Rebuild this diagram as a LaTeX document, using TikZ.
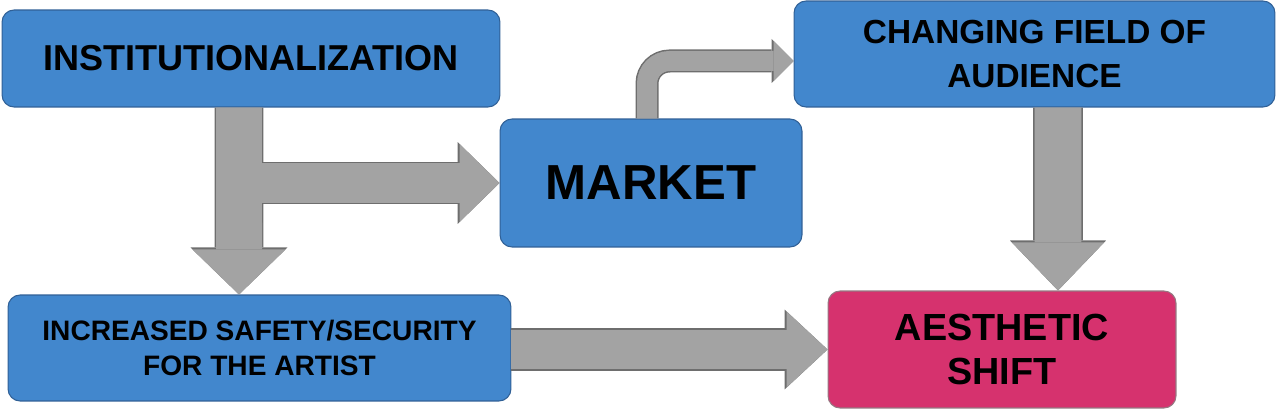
\documentclass[tikz,border=0pt]{standalone}
\usepackage{fontspec}
\setmainfont{Liberation Sans}
\usepackage{tikz}
\usetikzlibrary{arrows.meta, positioning, calc}

\definecolor{boxblue}{RGB}{66,135,205}
\definecolor{boxedge}{RGB}{48,96,150}
\definecolor{boxpink}{RGB}{214,50,110}
\definecolor{pinkedge}{RGB}{150,120,130}
\definecolor{arrowfill}{RGB}{163,163,163}
\definecolor{arrowedge}{RGB}{110,110,110}

\begin{document}
\begin{tikzpicture}[
    x=0.02cm, y=-0.02cm,
    box/.style={rectangle, draw=boxedge, line width=0.6pt, fill=boxblue, rounded corners=0.24cm, align=center, inner sep=0pt},
    arrowbody/.style={draw=arrowfill, line cap=butt},
    arrowrim/.style={draw=arrowedge, line cap=butt}
]
    \useasboundingbox (0,0) rectangle (1276,415);

    % boxes
    \node[box, minimum width=9.96cm, minimum height=1.94cm, font=\fontsize{20.5}{24}\bfseries\selectfont] (inst) at (251,58.5) {INSTITUTIONALIZATION};
    \node[box, minimum width=6.04cm, minimum height=2.56cm, font=\fontsize{28}{32}\bfseries\selectfont] (market) at (651,183) {MARKET};
    \node[box, minimum width=9.62cm, minimum height=2.12cm, font=\fontsize{19}{25.6}\bfseries\selectfont] (change) at (1034.5,54) {CHANGING FIELD OF\\AUDIENCE\hspace*{0pt}};
    \node[box, minimum width=10.06cm, minimum height=2.12cm, font=\fontsize{16}{19.9}\bfseries\selectfont] (incr) at (259.5,348) {INCREASED SAFETY/SECURITY\\FOR THE ARTIST};
    \node[box, draw=pinkedge, fill=boxpink, minimum width=6.96cm, minimum height=2.34cm, font=\fontsize{21.5}{25.6}\bfseries\selectfont] (aes) at (1002,349.5) {AESTHETIC\\SHIFT};

    \coordinate (branch) at (262,183);

    % block arrows
    \draw[arrowbody, line width=0.92cm, -{Triangle[length=0.9cm, width=1.86cm, line width=0pt]},
        preaction={arrowrim, line width=0.98cm, -{Triangle[length=0.94cm, width=1.94cm, line width=0pt]}}]
        ([xshift=-0.24cm]inst.south) -- ([xshift=-0.41cm]incr.north);
    \draw[arrowbody, line width=0.8cm, -{Triangle[length=0.8cm, width=1.56cm, line width=0pt]},
        preaction={arrowrim, line width=0.86cm, -{Triangle[length=0.84cm, width=1.64cm, line width=0pt]}}]
        (branch) -- (market.west);
    \draw[arrowbody, line width=0.4cm, rounded corners=0.45cm, -{Triangle[length=0.4cm, width=0.8cm, line width=0pt]},
        preaction={arrowrim, line width=0.46cm, -{Triangle[length=0.44cm, width=0.88cm, line width=0pt]}}]
        ([xshift=-0.08cm]market.north) |- ([yshift=-0.14cm]change.west);
    \draw[arrowbody, line width=0.94cm, -{Triangle[length=0.96cm, width=1.84cm, line width=0pt]},
        preaction={arrowrim, line width=1.0cm, -{Triangle[length=1.0cm, width=1.92cm, line width=0pt]}}]
        ([xshift=0.47cm]change.south) -- ([xshift=1.12cm]aes.north);
    \draw[arrowbody, line width=0.8cm, -{Triangle[length=0.82cm, width=1.52cm, line width=0pt]},
        preaction={arrowrim, line width=0.86cm, -{Triangle[length=0.86cm, width=1.6cm, line width=0pt]}}]
        (incr.east |- aes.west) -- (aes.west);
\end{tikzpicture}
\end{document}
